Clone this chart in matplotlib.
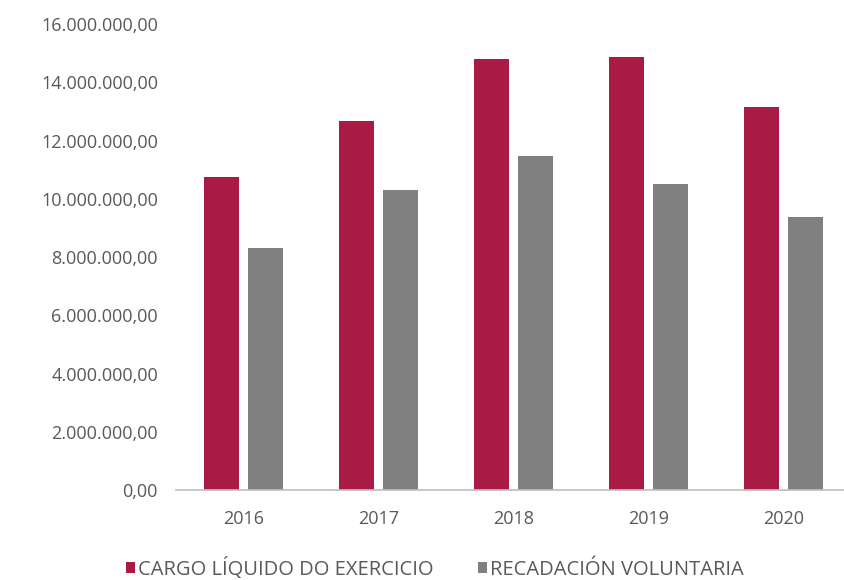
import numpy as np
import matplotlib.pyplot as plt
from matplotlib.ticker import FuncFormatter

years = ["2016", "2017", "2018", "2019", "2020"]
cargo_liquido = [10.75e6, 12.68e6, 14.81e6, 14.88e6, 13.16e6]
recadacion = [8.32e6, 10.31e6, 11.48e6, 10.52e6, 9.38e6]
series_names = ["CARGO LÍQUIDO DO EXERCICIO", "RECADACIÓN VOLUNTARIA"]

red = "#A91B45"
grey = "#808080"
text_col = "#595959"

plt.rcParams['font.family'] = ['Open Sans', 'DejaVu Sans']

fig = plt.figure(figsize=(8.44, 5.80), dpi=100)
ax = fig.add_axes([0.2085, 0.155, 0.795, 0.8036])

x = np.arange(len(years))
w = 0.26
ax.bar(x - 0.16, cargo_liquido, w, color=red, label=series_names[0])
ax.bar(x + 0.16, recadacion, w, color=grey, label=series_names[1])

ax.set_ylim(0, 16e6)
ax.set_xlim(-0.5, 4.47)
ax.set_yticks(np.arange(0, 16e6 + 1, 2e6))


def fmt(v, pos):
    s = f"{v:,.2f}"
    return s.replace(",", "X").replace(".", ",").replace("X", ".")


ax.yaxis.set_major_formatter(FuncFormatter(fmt))
ax.set_xticks(x)
ax.set_xticklabels(years)

for s in ["top", "right", "left"]:
    ax.spines[s].set_visible(False)
ax.spines["bottom"].set_color("#BFBFBF")
ax.spines["bottom"].set_linewidth(1.2)
ax.tick_params(axis="y", length=0, pad=13, labelsize=13, labelcolor=text_col)
ax.tick_params(axis="x", length=0, pad=14, labelsize=13, labelcolor=text_col)

fig.legend(loc="center", bbox_to_anchor=(0.515, 0.019), ncol=2, frameon=False,
           handlelength=0.45, handleheight=0.45, handletextpad=0.15, columnspacing=2.2,
           prop={"size": 14.5}, labelcolor=text_col)

fig.savefig("out.png", dpi=100)
